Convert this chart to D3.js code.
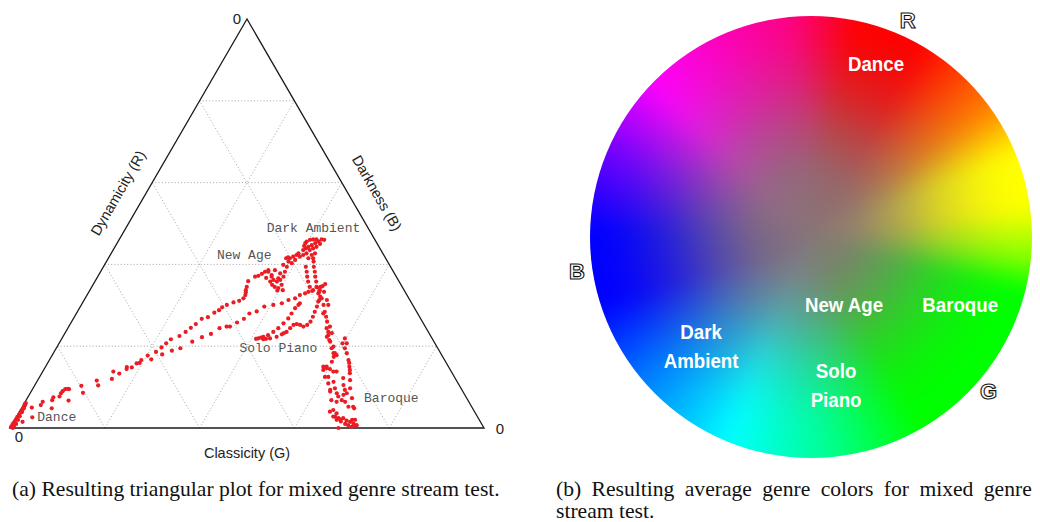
<!DOCTYPE html>
<html>
<head>
<meta charset="utf-8">
<script src="https://cdn.jsdelivr.net/npm/d3@7"></script>
<style>
  html, body { margin: 0; padding: 0; background: #fff; }
  svg { display: block; }
</style>
</head>
<body>
<div id="chart"></div>
<script>
// Data: ternary points as [classicity (G) %, darkness (B) %], dynamicity (R) is the rest
var danceTrace = [
  [0.1,0.2],[0.1,0.7],[0.1,1.2],[0.2,1.7],[0.2,2.2],[0.2,2.7],[0.3,3.2],[0.3,3.7],[0.3,4.2],[0.4,4.6],
  [0.4,4.9],[0.3,5.4],[0.4,5.6],[0.2,5.9],[0.3,6.1],[0.6,0.5],[0.8,1.0],[0.7,2.0],[0.6,2.9],[0.6,3.9],
  [0.5,4.9],[0.6,0.0],[2.1,5.0],[1.9,1.5],[3.4,2.6],[3.7,5.6],[3.7,6.4],[6.4,4.8],[5.4,7.5],[5.5,6.8],
  [6.6,7.7],[6.5,8.5],[6.6,9.0],[6.9,9.5],[7.4,9.6],[7.7,9.5],[9.0,6.7],[9.9,10.3],[11.1,8.6],[12.5,11.6],
  [13.4,10.4]
];
var upperTrail = [
  [14.9,13.8],[16.4,13.3],[17.2,14.9],[18.3,14.8],[18.8,15.8],[19.4,16.6],[20.2,17.7],[21.5,18.6],[22.1,19.7],
  [22.6,20.7],[23.1,21.7],[24.5,22.5],[25.3,23.5],[25.9,24.5],[26.5,25.4],[27.1,26.7],[28.2,27.1],[29.0,28.2],
  [29.7,28.8],[30.0,29.5],[30.7,30.1],[31.8,30.7],[32.8,31.1],[33.4,31.7],[33.4,32.5],[33.2,33.1],[32.9,33.7],
  [32.7,34.5],[32.3,35.9],[33.2,37.0],[33.8,37.2],[34.3,37.7],[34.7,38.2],[35.2,38.6]
];
var lowerTrail = [
  [15.5,12.0],[17.4,14.4],[19.4,15.9],[21.4,16.8],[23.1,18.0],[24.7,18.9],[26.2,19.5],[27.9,21.1],[29.4,22.2],
  [30.9,23.0],[32.0,24.4],[33.3,24.8],[34.0,24.8],[35.0,25.8],[36.0,26.7],[36.5,28.0],[37.8,28.5],[38.8,29.7],
  [40.5,30.1],[42.1,30.5],[43.1,31.3],[44.3,31.7],[44.9,32.5],[45.8,32.9],[46.3,33.3],[47.1,33.7]
];
var newAgeCluster = [
  [35.4,38.2],[36.5,37.4],[37.5,36.2],[38.4,35.8],[38.3,36.6],[38.1,37.8],[36.6,38.6],[36.7,37.0],[37.0,35.8],
  [38.6,34.5],[39.5,34.2],[39.6,33.6],[39.8,35.0],[38.9,36.2],[39.2,37.0],[38.9,38.2],[38.7,39.4],[37.7,39.9],
  [38.4,40.7],[38.3,41.5],[38.8,41.9],[39.3,42.3],[39.5,42.7],[40.2,41.9],[39.6,41.1],[39.3,40.3],[37.8,41.7],
  [37.5,41.5],[37.8,35.0],[35.7,36.7],[40.7,33.7]
];
var darkAmbientCluster = [
  [39.7,45.2],[39.8,45.6],[40.3,46.0],[40.9,46.1],[41.6,46.1],[42.3,45.6],[41.8,45.2],[41.3,44.7],[40.8,44.3],
  [40.5,43.9],[41.5,43.5],[42.0,43.9],[42.5,44.3],[43.0,42.7],[42.5,42.3],[41.2,42.7],[42.2,41.5],[43.2,41.5],
  [43.3,46.0],[42.7,46.1],[40.1,43.5],[40.7,42.3],[42.9,45.0],[39.8,44.5]
];
var descentTrail = [
  [42.7,39.4],[43.5,38.2],[44.2,37.0],[45.0,35.8],[46.0,34.5],[43.7,40.7],[44.4,39.4],[45.2,38.2],[45.9,37.0],
  [46.7,35.8],[47.6,34.4],[47.0,33.5]
];
var soloPianoLoop = [
  [41.0,21.8],[41.4,21.9],[41.9,22.1],[42.3,22.3],[43.1,22.7],[43.8,23.5],[44.4,24.4],[44.9,25.6],[45.3,26.8],
  [45.4,28.0],[45.5,29.3],[45.8,30.1],[45.9,30.5],[42.6,21.7],[43.1,21.8],[43.9,21.9],[45.1,22.3],[45.9,22.9],
  [46.2,23.2],[46.6,23.5],[46.9,24.4],[47.2,25.2],[47.8,25.4],[48.6,25.2],[49.5,24.8],[50.1,25.2],[50.4,26.0],
  [50.3,27.2],[50.1,28.4],[49.9,29.7],[49.6,30.9],[49.4,32.1],[48.6,33.3],[48.3,34.5]
];
var pianoToBaroque = [
  [47.4,34.5],[48.6,32.9],[49.9,31.7],[51.1,30.1],[52.2,28.4],[53.1,27.2],[53.9,26.0],[55.1,24.8],[56.3,23.2],
  [52.1,30.1],[51.2,31.3],[49.6,33.3],[48.6,34.7],[48.9,35.2],[48.5,33.7],[49.6,31.3],[52.1,28.0],[54.6,24.4],
  [55.8,22.7],[57.0,21.1],[58.1,19.5],[59.1,18.3]
];
var baroqueColumn = [
  [55.4,23.5],[55.7,22.3],[56.6,21.5],[58.3,19.9],[59.4,18.3],[60.0,17.8],[59.6,17.4],[59.8,16.2],[59.3,15.0],
  [59.0,14.2],[60.3,14.4],[61.3,13.8],[62.0,13.8],[60.9,12.5],[62.6,11.3],[63.7,9.7],[62.9,9.3],[64.7,8.5],
  [65.4,7.7],[64.4,6.8],[65.7,6.4],[66.0,4.4],[67.1,3.6],[67.2,2.8],[68.1,2.4],[68.6,2.1],[69.1,2.4],[70.1,1.8],
  [71.0,1.5],[71.9,1.1],[71.9,0.3],[71.0,0.7],[69.3,0.0],[64.2,12.2],[65.1,10.5],[66.0,9.3],[66.3,8.1],[66.6,6.8],
  [67.5,6.4],[68.8,5.2],[65.9,11.7],[65.0,13.4],[64.1,15.0],[63.1,16.6],[61.9,18.3],[60.9,19.5],[59.8,20.7],
  [59.7,21.9],[60.7,20.7],[63.6,15.9],[64.6,14.2],[66.9,9.7],[66.8,8.5],[68.5,7.3],[70.2,4.8],[69.8,5.2],
  [71.8,2.0],[72.8,0.7],[58.6,15.0],[59.5,14.6],[60.2,12.5],[61.7,10.9],[63.1,8.9],[65.5,4.0],[66.8,2.8],
  [67.9,2.0],[69.0,1.6],[70.2,1.0],[71.2,2.0],[72.3,0.5]
];

var genreNames = ["Dark Ambient", "New Age", "Solo Piano", "Baroque", "Dance"];
var genreLabelAt = [[30.2,47.9],[23.0,41.3],[39.1,18.6],[71.5,6.4],[4.9,1.7]];
var gridTicks = [20, 40, 60, 80];
var cornerTicks = ["0", "0", "0"];
var axisTitles = ["Dynamicity (R)", "Darkness (B)", "Classicity (G)"];

// colour wheel: angle (deg clockwise from top) -> hue (unwrapped)
var wheelAngle = [-5, 12, 30, 54, 68, 82, 96, 104, 150, 176, 202, 229, 252, 272, 292, 314, 355, 372, 390];
var wheelHue = [330, 360, 360, 390, 420, 420, 450, 480, 480, 515, 540, 570, 600, 600, 625, 660, 690, 720, 720];
var wheelGenres = [["Dance"], ["New Age"], ["Baroque"], ["Dark", "Ambient"], ["Solo", "Piano"]];
var wheelGenreAngle = [20.5, 153.9, 114.2, 225.3, 170.4];
var wheelGenreRadius = [0.84, 0.34, 0.74, 0.70, 0.68];
var channelNames = ["R", "G", "B"];
var channelAngle = [24, 131, 261.7];
var channelRadius = [1.075, 1.065, 1.07];

var captionA = "(a) Resulting triangular plot for mixed genre stream test.";
var captionB = ["(b) Resulting average genre colors for mixed genre", "stream test."];

var width = 1040, height = 522;
var svg = d3.select("#chart").append("svg")
  .attr("width", width)
  .attr("height", height);

// ---------- ternary plot ----------
var xScale = d3.scaleLinear().domain([0, 100]).range([10, 484]);
var yScale = d3.scaleLinear().domain([0, 100]).range([428, 19]);
var tx = p => xScale(p[0] + p[1] / 2);
var ty = p => yScale(p[1]);
var line = d3.line().x(tx).y(ty);

var grid = svg.append("g")
  .attr("fill", "none")
  .attr("stroke", "#9a9a9a")
  .attr("stroke-width", 0.9)
  .attr("stroke-dasharray", "1,2.2");
gridTicks.forEach(k => {
  grid.append("path").attr("d", line([[0, k], [100 - k, k]]));
  grid.append("path").attr("d", line([[k, 0], [k, 100 - k]]));
  grid.append("path").attr("d", line([[100 - k, 0], [0, 100 - k]]));
});

svg.append("path")
  .attr("d", line([[0, 0], [100, 0], [0, 100]]) + "Z")
  .attr("fill", "none")
  .attr("stroke", "#1a1a1a")
  .attr("stroke-width", 1.3);

var allPoints = [].concat(danceTrace, upperTrail, lowerTrail, newAgeCluster,
  darkAmbientCluster, descentTrail, soloPianoLoop, pianoToBaroque, baroqueColumn);

svg.append("g")
  .selectAll("circle")
  .data(allPoints)
  .enter()
  .append("circle")
  .attr("cx", tx)
  .attr("cy", ty)
  .attr("r", 2.1)
  .attr("fill", "#ec1c24");

svg.append("g")
  .selectAll("text")
  .data(genreNames)
  .enter()
  .append("text")
  .attr("x", (d, i) => tx(genreLabelAt[i]))
  .attr("y", (d, i) => ty(genreLabelAt[i]))
  .attr("font-family", "'Liberation Mono', 'Courier New', monospace")
  .attr("font-size", 13)
  .attr("fill", "#555")
  .text(d => d);

// corner zeros: apex, bottom-left, bottom-right
var cornerAt = [[0, 100], [0, 0], [100, 0]];
var cornerShift = [[-10, 5], [9, 14], [16, 6]];
svg.append("g")
  .selectAll("text")
  .data(cornerTicks)
  .enter()
  .append("text")
  .attr("x", (d, i) => tx(cornerAt[i]) + cornerShift[i][0])
  .attr("y", (d, i) => ty(cornerAt[i]) + cornerShift[i][1])
  .attr("text-anchor", "middle")
  .attr("font-family", "'Liberation Sans', Arial, sans-serif")
  .attr("font-size", 15)
  .attr("fill", "#222")
  .text(d => d);

var titleAt = [[118, 193, -60], [377, 193, 60], [247, 453, 0]];
svg.append("g")
  .selectAll("text")
  .data(axisTitles)
  .enter()
  .append("text")
  .attr("transform", (d, i) => `translate(${titleAt[i][0]},${titleAt[i][1]}) rotate(${titleAt[i][2]})`)
  .attr("text-anchor", "middle")
  .attr("dy", "0.35em")
  .attr("font-family", "'Liberation Sans', Arial, sans-serif")
  .attr("font-size", 14.5)
  .attr("fill", "#222")
  .text(d => d);

// ---------- colour wheel (painted per pixel, then softened) ----------
var cx = 811, cy = 237, R = 221;
var toRad = Math.PI / 180;
var hueScale = d3.scaleLinear().domain(wheelAngle).range(wheelHue);
var greyCore = d3.rgb(136, 116, 120);
var greyX = 806, greyY = 224, greyR = 210;
var greyWeight = d3.scaleLinear()
  .domain([0, 0.25, 0.45, 0.65, 0.85, 1])
  .range([1, 0.88, 0.62, 0.3, 0.08, 0])
  .clamp(true);
var hueLookup = d3.range(0, 3600).map(i => d3.rgb(d3.hsl(hueScale(i / 10) % 360, 1, 0.5)));

var pad = 30, size = 2 * (R + pad);
var ox = cx - R - pad, oy = cy - R - pad;
var raw = document.createElement("canvas");
raw.width = size; raw.height = size;
var rctx = raw.getContext("2d");
var img = rctx.createImageData(size, size);
for (var py = 0; py < size; py++) {
  for (var px = 0; px < size; px++) {
    var dx = px + 0.5 - (R + pad), dy = py + 0.5 - (R + pad);
    var ang = (Math.atan2(dx, -dy) / toRad + 360) % 360;
    var c = hueLookup[Math.floor(ang * 10) % 3600];
    var w = greyWeight(Math.hypot(ox + px + 0.5 - greyX, oy + py + 0.5 - greyY) / greyR);
    var k = (py * size + px) * 4;
    img.data[k] = c.r * (1 - w) + greyCore.r * w;
    img.data[k + 1] = c.g * (1 - w) + greyCore.g * w;
    img.data[k + 2] = c.b * (1 - w) + greyCore.b * w;
    img.data[k + 3] = 255;
  }
}
rctx.putImageData(img, 0, 0);

var soft = document.createElement("canvas");
soft.width = size; soft.height = size;
var sctx = soft.getContext("2d");
sctx.filter = "blur(10px)";
sctx.drawImage(raw, 0, 0);
sctx.filter = "none";
sctx.globalCompositeOperation = "destination-in";
sctx.beginPath();
sctx.arc(R + pad, R + pad, R, 0, 2 * Math.PI);
sctx.fill();

svg.append("image")
  .attr("x", ox).attr("y", oy)
  .attr("width", size).attr("height", size)
  .attr("href", soft.toDataURL());

var polarX = (ang, rr) => cx + rr * R * Math.sin(ang * toRad);
var polarY = (ang, rr) => cy - rr * R * Math.cos(ang * toRad);

var genreText = svg.append("g")
  .selectAll("text")
  .data(wheelGenres)
  .enter()
  .append("text")
  .attr("transform", (d, i) => `translate(${polarX(wheelGenreAngle[i], wheelGenreRadius[i])},${polarY(wheelGenreAngle[i], wheelGenreRadius[i])}) scale(0.89,1)`)
  .attr("text-anchor", "middle")
  .attr("font-family", "'Liberation Sans', Arial, sans-serif")
  .attr("font-weight", "bold")
  .attr("font-size", 21)
  .attr("fill", "#fff");
genreText.selectAll("tspan")
  .data(d => d.map((t, j) => [t, j, d.length]))
  .enter()
  .append("tspan")
  .attr("x", 0)
  .attr("y", d => 7.5 + (d[1] - (d[2] - 1) / 2) * 29)
  .text(d => d[0]);

svg.append("g")
  .selectAll("text")
  .data(channelNames)
  .enter()
  .append("text")
  .attr("x", (d, i) => polarX(channelAngle[i], channelRadius[i]))
  .attr("y", (d, i) => polarY(channelAngle[i], channelRadius[i]) + 8)
  .attr("text-anchor", "middle")
  .attr("font-family", "'Liberation Sans', Arial, sans-serif")
  .attr("font-weight", "bold")
  .attr("font-size", 22)
  .attr("fill", "#fff")
  .attr("stroke", "#111")
  .attr("stroke-width", 1.1)
  .text(d => d);

// ---------- captions ----------
var capFont = "'Liberation Serif', 'Times New Roman', serif";
var capA = svg.append("text")
  .attr("font-family", capFont)
  .attr("font-size", 22)
  .attr("fill", "#111")
  .text(captionA);
var natA = capA.node().getComputedTextLength();
var squeeze = 488 / natA;
capA.attr("transform", `translate(12,496) scale(${squeeze},1)`);

var capB1 = svg.append("text")
  .attr("font-family", capFont)
  .attr("font-size", 22)
  .attr("fill", "#111")
  .text(captionB[0]);
var natB = capB1.node().getComputedTextLength();
var gaps = captionB[0].split(" ").length - 1;
capB1.attr("word-spacing", (476 / squeeze - natB) / gaps)
  .attr("transform", `translate(556,496) scale(${squeeze},1)`);

svg.append("text")
  .attr("font-family", capFont)
  .attr("font-size", 22)
  .attr("fill", "#111")
  .attr("transform", `translate(556,518) scale(${squeeze},1)`)
  .text(captionB[1]);
</script>
</body>
</html>
